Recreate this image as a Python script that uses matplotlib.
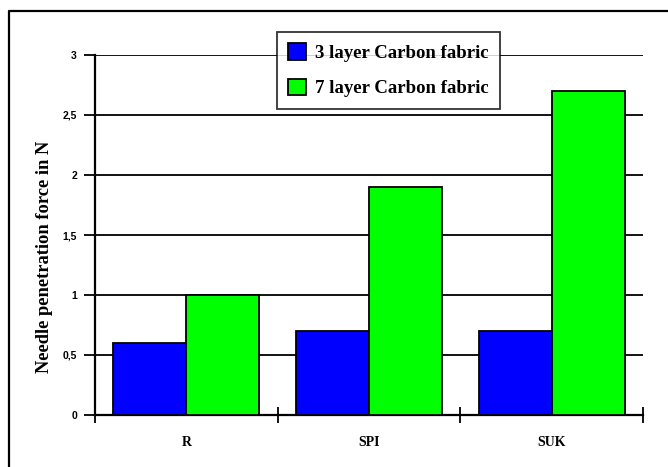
import matplotlib
matplotlib.use("Agg")
import matplotlib.pyplot as plt
from matplotlib.lines import Line2D
import numpy as np

categories = ["R", "SPI", "SUK"]
carbon_3_layer = [0.6, 0.7, 0.7]
carbon_7_layer = [1.0, 1.9, 2.7]
series_labels = ["3 layer Carbon fabric", "7 layer Carbon fabric"]
y_ticks = [0, 0.5, 1, 1.5, 2, 2.5, 3]
y_tick_labels = ["0", "0,5", "1", "1,5", "2", "2,5", "3"]

W, H = 668, 467
fig = plt.figure(figsize=(W / 100, H / 100), dpi=100)
fig.patch.set_facecolor("white")

# axes box in pixel coordinates
left, right, top, bottom = 95, 643, 55, 415
ax = fig.add_axes([left / W, 1 - bottom / H, (right - left) / W, (bottom - top) / H])

x = np.arange(len(categories))
bw = 0.4
ax.bar(x - bw / 2, carbon_3_layer, width=bw, color="#0000ff", edgecolor="black",
       linewidth=1.3, label=series_labels[0], zorder=3)
ax.bar(x + bw / 2, carbon_7_layer, width=bw, color="#00ff00", edgecolor="black",
       linewidth=1.3, label=series_labels[1], zorder=3)

ax.set_xlim(-0.5, len(categories) - 0.5)
ax.set_ylim(0, 3)

ax.set_yticks(y_ticks)
ax.set_yticklabels(y_tick_labels, fontfamily="Liberation Sans", fontweight="bold", fontsize=7.5)
ax.yaxis.grid(True, color="black", linewidth=1.3, zorder=0)
ax.set_axisbelow(True)

# category boundaries carry the x ticks; labels sit at the centres
ax.set_xticks(np.arange(len(categories) + 1) - 0.5)
ax.set_xticklabels([])
ax.set_xticks(x, minor=True)
ax.set_xticklabels(categories, minor=True, fontfamily="Liberation Serif",
                   fontweight="bold", fontsize=10)
ax.tick_params(axis="x", which="major", direction="inout", length=12, width=1.3)
ax.tick_params(axis="x", which="minor", length=0, pad=15)
ax.tick_params(axis="y", direction="out", length=8, width=1.3, pad=5)

for s in ["top", "right"]:
    ax.spines[s].set_visible(False)
for s in ["left", "bottom"]:
    ax.spines[s].set_linewidth(1.6)

ax.set_ylabel("Needle penetration force in N", fontfamily="Liberation Serif",
              fontweight="bold", fontsize=13.3)
ax.yaxis.set_label_coords((53 - left) / (right - left), (bottom - 257) / (bottom - top))

leg = fig.legend(loc="upper left", bbox_to_anchor=(277 / W, 1 - 32 / H),
                 prop={"family": "Liberation Serif", "weight": "bold", "size": 13.5},
                 frameon=True, fancybox=False, edgecolor="black",
                 handlelength=0.96, handleheight=0.96, handletextpad=0.45,
                 labelspacing=0.9, borderpad=0.6, borderaxespad=0)
leg.get_frame().set_linewidth(1.3)
for p in leg.get_patches():
    p.set_linewidth(1.3)

# outer frame (left and top edges)
fig.add_artist(Line2D([9 / W, 9 / W, 1.0], [0.0, 1 - 11 / H, 1 - 11 / H],
                      transform=fig.transFigure, color="black", linewidth=1.6))

fig.savefig("out.png", dpi=100)
